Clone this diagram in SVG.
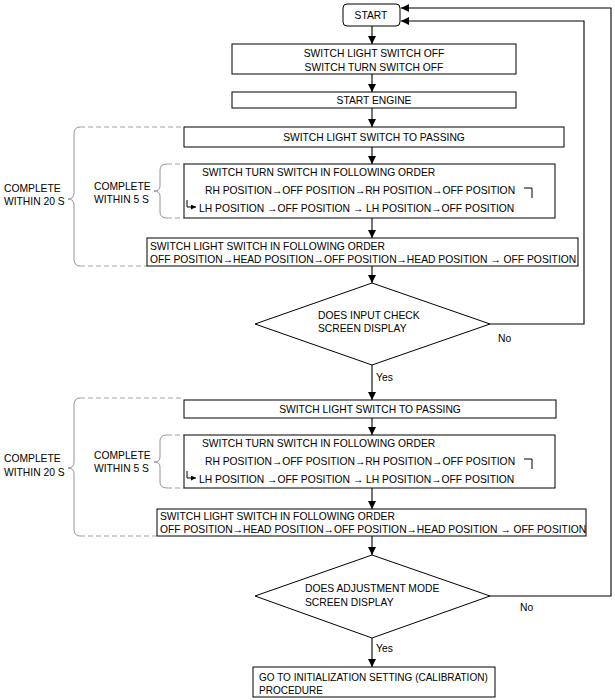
<svg xmlns="http://www.w3.org/2000/svg" width="615" height="700" viewBox="0 0 615 700">
<defs>
<marker id="ah" viewBox="0 0 10 10" refX="10" refY="5" markerWidth="9" markerHeight="8" markerUnits="userSpaceOnUse" orient="auto"><path d="M0,0 L10,5 L0,10 z" fill="#000"/></marker>
<marker id="sh" viewBox="0 0 10 10" refX="10" refY="5" markerWidth="5" markerHeight="5" markerUnits="userSpaceOnUse" orient="auto"><path d="M0,0 L10,5 L0,10 z" fill="#000"/></marker>
<style>
text{font-family:"Liberation Sans",Arial,sans-serif;font-size:10.3px;fill:#000}
.c{text-anchor:middle}
.s{font-size:10px}
.box{fill:#fff;stroke:#000;stroke-width:1}
.ln{fill:none;stroke:#000;stroke-width:1.1}
.br{fill:none;stroke:#888;stroke-width:0.9}
.da{fill:none;stroke:#999;stroke-width:0.9;stroke-dasharray:5,3}
.hk{fill:none;stroke:#000;stroke-width:1}
</style>
</defs>
<rect width="615" height="700" fill="#fff"/>

<g id="connectors">
<path class="ln" d="M372,26 V44" marker-end="url(#ah)"/>
<path class="ln" d="M372,74 V92" marker-end="url(#ah)"/>
<path class="ln" d="M372,108 V127" marker-end="url(#ah)"/>
<path class="ln" d="M372,147 V164" marker-end="url(#ah)"/>
<path class="ln" d="M372,218 V238" marker-end="url(#ah)"/>
<path class="ln" d="M372,266 V283" marker-end="url(#ah)"/>
<path class="ln" d="M372,365 V400" marker-end="url(#ah)"/>
<path class="ln" d="M372,418 V435" marker-end="url(#ah)"/>
<path class="ln" d="M372,488 V509" marker-end="url(#ah)"/>
<path class="ln" d="M372,536 V555" marker-end="url(#ah)"/>
<path class="ln" d="M372,638 V667" marker-end="url(#ah)"/>
<path class="ln" d="M490,324 H584 V21 H401" marker-end="url(#ah)"/>
<path class="ln" d="M490,596 H611 V8 H401" marker-end="url(#ah)"/>
<text x="498" y="342">No</text>
<text x="376" y="381">Yes</text>
<text x="520" y="611">No</text>
<text x="376" y="652">Yes</text>
</g>

<g id="braces">
<path class="br" d="M80,127 Q74,127 74,134 V193 Q74,199 68,199 Q74,199 74,205 V259 Q74,266 80,266"/>
<path class="da" d="M80,127 H184 M80,266 H147"/>
<path class="br" d="M167,164 Q160,164 160,170 V186 Q160,191 154,191 Q160,191 160,196 V212 Q160,218 167,218"/>
<path class="da" d="M167,164 H184 M167,218 H184"/>
<text x="4" y="192">COMPLETE</text>
<text x="4" y="205">WITHIN 20 S</text>
<text x="94" y="190">COMPLETE</text>
<text x="94" y="203">WITHIN 5 S</text>

<path class="br" d="M80,398 Q74,398 74,405 V462 Q74,468 68,468 Q74,468 74,474 V529 Q74,536 80,536"/>
<path class="da" d="M80,398 H184 M80,536 H157"/>
<path class="br" d="M167,435 Q160,435 160,441 V457 Q160,462 154,462 Q160,462 160,467 V482 Q160,488 167,488"/>
<path class="da" d="M167,435 H184 M167,488 H184"/>
<text x="4" y="462">COMPLETE</text>
<text x="4" y="476">WITHIN 20 S</text>
<text x="94" y="459">COMPLETE</text>
<text x="94" y="472">WITHIN 5 S</text>
</g>

<g id="start">
<rect class="box" x="343" y="4" width="57" height="22" rx="4"/>
<text class="c" x="371" y="19">START</text>
</g>
<g id="off">
<rect class="box" x="232" y="44" width="284" height="30"/>
<text class="c" x="374" y="57">SWITCH LIGHT SWITCH OFF</text>
<text class="c" x="374" y="71">SWITCH TURN SWITCH OFF</text>
</g>
<g id="engine">
<rect class="box" x="232" y="92" width="284" height="16"/>
<text class="c" x="374" y="104">START ENGINE</text>
</g>
<g id="pass1">
<rect class="box" x="184" y="127" width="380" height="20"/>
<text class="c" x="374" y="141">SWITCH LIGHT SWITCH TO PASSING</text>
</g>
<g id="turn1">
<rect class="box" x="184" y="164" width="371" height="54"/>
<text x="202" y="176">SWITCH TURN SWITCH IN FOLLOWING ORDER</text>
<text x="205" y="194">RH POSITION→OFF POSITION→RH POSITION→OFF POSITION</text>
<path class="hk" d="M524,188 H532 V198"/>
<path class="hk" d="M187,200 V207 H196" marker-end="url(#sh)"/>
<text x="199" y="212">LH POSITION →OFF POSITION → LH POSITION→OFF POSITION</text>
</g>
<g id="head1">
<rect class="box" x="147" y="238" width="431" height="28"/>
<text x="150" y="250">SWITCH LIGHT SWITCH IN FOLLOWING ORDER</text>
<text x="150" y="263">OFF POSITION→HEAD POSITION→OFF POSITION→HEAD POSITION → OFF POSITION</text>
</g>
<g id="check1">
<polygon class="box" points="372,283 490,324 372,365 255,324"/>
<text x="318" y="319">DOES INPUT CHECK</text>
<text x="318" y="332">SCREEN DISPLAY</text>
</g>

<g id="pass2">
<rect class="box" x="184" y="400" width="372" height="18"/>
<text class="c" x="370" y="413">SWITCH LIGHT SWITCH TO PASSING</text>
</g>
<g id="turn2">
<rect class="box" x="184" y="435" width="371" height="53"/>
<text x="202" y="447">SWITCH TURN SWITCH IN FOLLOWING ORDER</text>
<text x="205" y="465">RH POSITION→OFF POSITION→RH POSITION→OFF POSITION</text>
<path class="hk" d="M524,459 H532 V469"/>
<path class="hk" d="M187,471 V478 H196" marker-end="url(#sh)"/>
<text x="199" y="483">LH POSITION →OFF POSITION → LH POSITION→OFF POSITION</text>
</g>
<g id="head2">
<rect class="box" x="157" y="509" width="429" height="27"/>
<text x="160" y="520">SWITCH LIGHT SWITCH IN FOLLOWING ORDER</text>
<text x="160" y="533">OFF POSITION→HEAD POSITION→OFF POSITION→HEAD POSITION → OFF POSITION</text>
</g>
<g id="check2">
<polygon class="box" points="372,555 490,596 372,638 255,596"/>
<text x="305" y="592">DOES ADJUSTMENT MODE</text>
<text x="305" y="606">SCREEN DISPLAY</text>
</g>
<g id="calib">
<rect class="box" x="253" y="667" width="242" height="30"/>
<text class="s" x="259" y="681">GO TO INITIALIZATION SETTING (CALIBRATION)</text>
<text class="s" x="259" y="694">PROCEDURE</text>
</g>
</svg>
